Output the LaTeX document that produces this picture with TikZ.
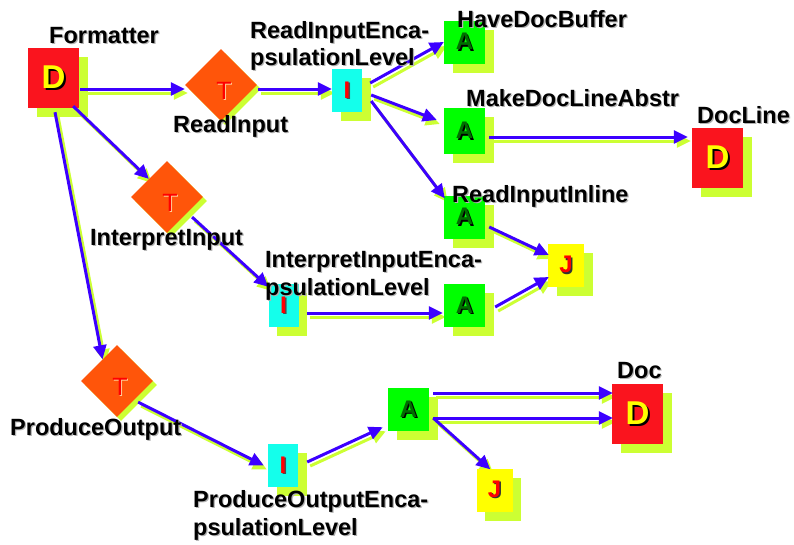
\documentclass[tikz,border=0pt]{standalone}
\usepackage{fontspec}
\setmainfont{Liberation Sans}
\usetikzlibrary{shapes.geometric,shadows,arrows.meta,calc}

\definecolor{dred}{RGB}{250,20,30}
\definecolor{torange}{RGB}{255,85,10}
\definecolor{icyan}{RGB}{20,255,235}
\definecolor{agreen}{RGB}{0,255,0}
\definecolor{jyellow}{RGB}{255,255,0}
\definecolor{shgreen}{RGB}{204,255,51}
\definecolor{linkblue}{RGB}{60,0,255}
\definecolor{adark}{RGB}{0,110,0}

\pgfdeclarelayer{bg}
\pgfsetlayers{bg,main}

% text with an offset copy behind it
\newcommand\shadowtext[3]{\makebox[0pt][l]{\kern#3\raisebox{-#3}{\color{#2}#1}}#1}

% task letter, set a little right of and below the diamond centre
\newcommand\taskletter{\hspace*{6pt}\raisebox{0pt}[28pt][0pt]{\shadowtext{T}{orange!40!white}{1pt}}}

% connector with its offset shadow line underneath
\newcommand\link[2]{%
  \begin{pgfonlayer}{bg}\draw[linkshadow] #1 -- #2;\end{pgfonlayer}%
  \draw[linkline] #1 -- #2;}

\tikzset{
  box/.style={rectangle, inner sep=0pt,
    drop shadow={shadow xshift=8.5pt, shadow yshift=-9pt, fill=shgreen, opacity=1}},
  dbox/.style={box, fill=dred, minimum width=51pt, minimum height=60pt,
    text=jyellow, font=\fontsize{33}{33}\selectfont\bfseries},
  ibox/.style={box, fill=icyan, minimum width=30pt, minimum height=43pt,
    text=red, font=\fontsize{24}{24}\selectfont\bfseries},
  abox/.style={box, fill=agreen, minimum width=41pt, minimum height=43pt,
    text=adark, font=\fontsize{24}{24}\selectfont\bfseries},
  jbox/.style={box, fill=jyellow, minimum width=36pt, minimum height=43pt,
    text=red, font=\fontsize{24}{24}\selectfont\bfseries},
  tdiamond/.style={diamond, shape aspect=1, inner sep=0pt, fill=torange,
    minimum width=72pt, minimum height=72pt,
    drop shadow={shadow xshift=4pt, shadow yshift=-4pt, fill=shgreen, opacity=1},
    text=red, font=\fontsize{25}{25}\selectfont},
  lbl/.style={anchor=base west, inner sep=0pt,
    font=\fontsize{23.5}{28}\selectfont\bfseries},
  linkline/.style={line width=3pt, linkblue, -{Triangle[length=14pt,width=13pt]}},
  linkshadow/.style={line width=3pt, shgreen, -{Triangle[length=14pt,width=13pt]},
    transform canvas={xshift=3pt,yshift=-4pt}},
}

\begin{document}
\begin{tikzpicture}[x=1pt,y=-1pt]
\useasboundingbox (0,0) rectangle (794,544);

% data nodes
\node[dbox] (fmt) at (53.5,78)  {\shadowtext{D}{black}{2pt}};
\node[dbox] (dl)  at (717.5,158) {\shadowtext{D}{black}{2pt}};
\node[dbox] (dc)  at (637.5,414) {\shadowtext{D}{black}{2pt}};

% tasks
\node[tdiamond] (ri) at (221,85)  {\taskletter};
\node[tdiamond] (ii) at (167,197) {\taskletter};
\node[tdiamond] (po) at (117,381) {\taskletter};

% encapsulation levels
\node[ibox] (i1) at (347,90.5)  {\shadowtext{I}{black!70}{1.5pt}};
\node[ibox] (i2) at (283.5,305.5) {\shadowtext{I}{black!70}{1.5pt}};
\node[ibox] (i3) at (283,465.5) {\shadowtext{I}{black!70}{1.5pt}};

% actions
\node[abox] (a1) at (464.5,42)    {\shadowtext{A}{black}{1.5pt}};
\node[abox, minimum height=46pt] (a2) at (464.5,131) {\shadowtext{A}{black}{1.5pt}};
\node[abox] (a3) at (464.5,217)   {\shadowtext{A}{black}{1.5pt}};
\node[abox] (a4) at (464.5,305.5) {\shadowtext{A}{black}{1.5pt}};
\node[abox] (a5) at (408.5,409.5) {\shadowtext{A}{black}{1.5pt}};

% joins
\node[jbox] (j1) at (566,265.5) {\shadowtext{J}{black!80}{1.5pt}};
\node[jbox] (j2) at (494.5,490) {\shadowtext{J}{black!80}{1.5pt}};

% connectors
\link{($(fmt.east)+(1,11)$)}{($(ri.west)+(0,4)$)}
\link{($(fmt.south east)+(-6,-2)$)}{(ii.north west)}
\link{($(fmt.south)+(1.5,4)$)}{($(po.west)!0.6!(po.north)$)}
\link{($(ri.east)+(1,4)$)}{($(i1.west)+(0,-1.5)$)}
\link{($(i1.east)+(8,-7.5)$)}{(a1.west)}
\link{($(i1.east)+(9,4.5)$)}{($(a2.west)+(-7,-11)$)}
\link{($(i1.east)+(9,10.5)$)}{($(a3.north west)+(1,3)$)}
\link{($(a2.east)+(4,6)$)}{($(dl.west)+(-4,-21)$)}
\link{($(ii.south east)+(7,2)$)}{($(i2.north west)+(0,3)$)}
\link{($(i2.east)+(8,7.5)$)}{($(a4.west)+(-1,7.5)$)}
\link{($(a3.east)+(4,10)$)}{($(j1.west)+(1,-10.5)$)}
\link{($(a4.east)+(10,1.5)$)}{($(j1.west)+(1,11.5)$)}
\link{($(po.south east)+(3,3)$)}{($(i3.west)+(-4,0)$)}
\link{($(i3.east)+(9,-3.5)$)}{($(a5.south west)+(-5,-4)$)}
\link{($(a5.east)+(4,-16.5)$)}{($(dc.west)+(1,-21)$)}
\link{($(a5.east)+(4,8.5)$)}{($(dc.west)+(1,4)$)}
\link{($(a5.east)+(4,8.5)$)}{($(j2.north west)+(14,1)$)}

% labels
\newcommand\lt[1]{\shadowtext{#1}{black!30}{1.2pt}}
\node[lbl] (lfmt) at (49,43)   {\lt{Formatter}};
\node[lbl] (lri)  at (173,132) {\lt{ReadInput}};
\node[lbl] (lii)  at (90,245)  {\lt{InterpretInput}};
\node[lbl] (lpo)  at (10,435)  {\lt{ProduceOutput}};
\node[lbl] (li1a) at (250,38)  {\lt{ReadInputEnca-}};
\node[lbl] (li1b) at (250,65)  {\lt{psulationLevel}};
\node[lbl] (li2a) at (265,267) {\lt{InterpretInputEnca-}};
\node[lbl] (li2b) at (265,295) {\lt{psulationLevel}};
\node[lbl] (li3a) at (193,507) {\lt{ProduceOutputEnca-}};
\node[lbl] (li3b) at (193,535) {\lt{psulationLevel}};
\node[lbl] (la1)  at (457,27)  {\lt{HaveDocBuffer}};
\node[lbl] (la2)  at (466,106) {\lt{MakeDocLineAbstr}};
\node[lbl] (la3)  at (452,202) {\lt{ReadInputInline}};
\node[lbl] (ldl)  at (697,123) {\lt{DocLine}};
\node[lbl] (ldc)  at (617,378) {\lt{Doc}};
\end{tikzpicture}
\end{document}
